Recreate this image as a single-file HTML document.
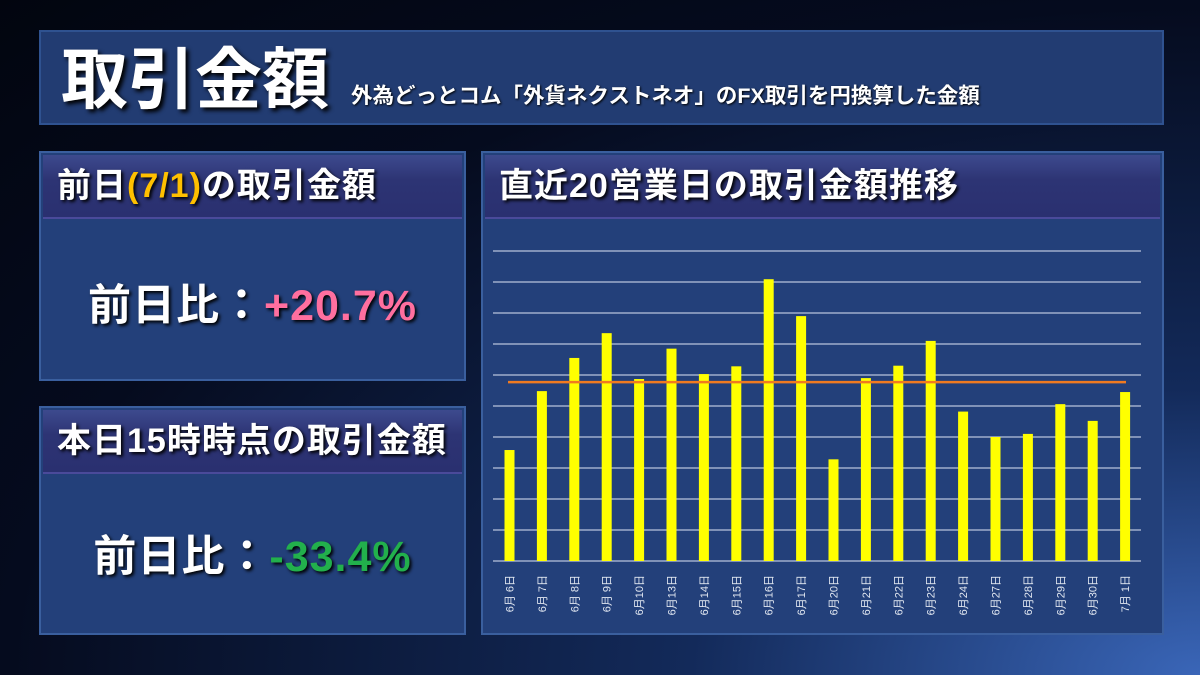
<!DOCTYPE html>
<html><head><meta charset="utf-8"><style>
body{margin:0;width:1200px;height:675px;overflow:hidden;background:radial-gradient(ellipse at 100% 100%,#3a66b8 0%,#132a5a 30%,#050b1e 70%,#02050f 100%);font-family:"Liberation Sans","Noto Sans CJK JP",sans-serif;position:relative}
.box{position:absolute;background:#23407a;border:2px solid #3a5f9e;box-sizing:border-box}
.hdr{position:absolute;left:2px;right:2px;top:2px;height:62px;background:linear-gradient(#3d4a8e,#2d3474 40%,#2a3070);border-bottom:2px solid #4a4a9a;color:#fff;font-weight:bold;font-size:34px;line-height:62px;padding-left:14px;text-shadow:2px 2px 3px #000;white-space:nowrap;letter-spacing:1px}
.val{position:absolute;left:0;right:0;text-align:center;color:#fff;font-size:43px;font-weight:bold;text-shadow:2px 2px 3px #000;letter-spacing:1px}
</style></head><body>
<div class="box" style="left:39px;top:30px;width:1125px;height:95px;background:#223c72;border-color:#2f5290">
<span style="position:absolute;left:20px;top:-6px;color:#fff;font-weight:bold;font-size:67px;text-shadow:3px 3px 4px #000">取引金額</span>
<span style="position:absolute;left:310px;top:47px;color:#fff;font-weight:bold;font-size:21.5px;text-shadow:1px 1px 2px #000;white-space:nowrap">外為どっとコム「外貨ネクストネオ」のFX取引を円換算した金額</span>
</div>
<div class="box" style="left:39px;top:151px;width:427px;height:230px">
<div class="hdr">前日<span style="color:#ffc000">(7/1)</span>の取引金額</div>
<div class="val" style="top:118px">前日比：<span style="color:#ff6f9f">+20.7%</span></div>
</div>
<div class="box" style="left:39px;top:406px;width:427px;height:229px">
<div class="hdr">本日15時時点の取引金額</div>
<div class="val" style="top:114px">前日比：<span style="color:#22b04c">-33.4%</span></div>
</div>
<div class="box" style="left:481px;top:151px;width:683px;height:484px">
<div class="hdr">直近20営業日の取引金額推移</div>
</div>
<svg id="chart" width="1200" height="675" style="position:absolute;left:0;top:0"></svg>
<script>
const categories=["6月 6日","6月 7日","6月 8日","6月 9日","6月10日","6月13日","6月14日","6月15日","6月16日","6月17日","6月20日","6月21日","6月22日","6月23日","6月24日","6月27日","6月28日","6月29日","6月30日","7月 1日"];
const values=[3.58,5.48,6.55,7.35,5.87,6.85,6.03,6.28,9.09,7.90,3.28,5.90,6.30,7.10,4.82,4.0,4.10,5.06,4.52,5.45];
const average=[5.77];
const gridTicks=[0,1,2,3,4,5,6,7,8,9,10];
const svg=document.getElementById('chart');const NS='http://www.w3.org/2000/svg';
const y=v=>561-v*31, x=i=>509.5+i*32.4;
function mk(t,a){const e=document.createElementNS(NS,t);for(const k in a)e.setAttribute(k,a[k]);svg.appendChild(e);return e;}
gridTicks.forEach(t=>{const l=mk('line',{x1:493,x2:1141,y1:y(t),y2:y(t),stroke:'#b8c4dc','stroke-width':1.2});

});
values.forEach((v,i)=>{const r=mk('rect',{x:x(i)-5,y:y(v),width:10,height:v*31,fill:'#ffff00'});


const tx=mk('text',{x:0,y:0,fill:'#e0e6f0','font-size':11,transform:`translate(${x(i)+4},${575}) rotate(-90)`,'text-anchor':'end'});


tx.textContent=categories[i];});
const av=mk('line',{x1:508,x2:1126,y1:y(average[0]),y2:y(average[0]),stroke:'#f07a20','stroke-width':2.5});


</script>
</body></html>
